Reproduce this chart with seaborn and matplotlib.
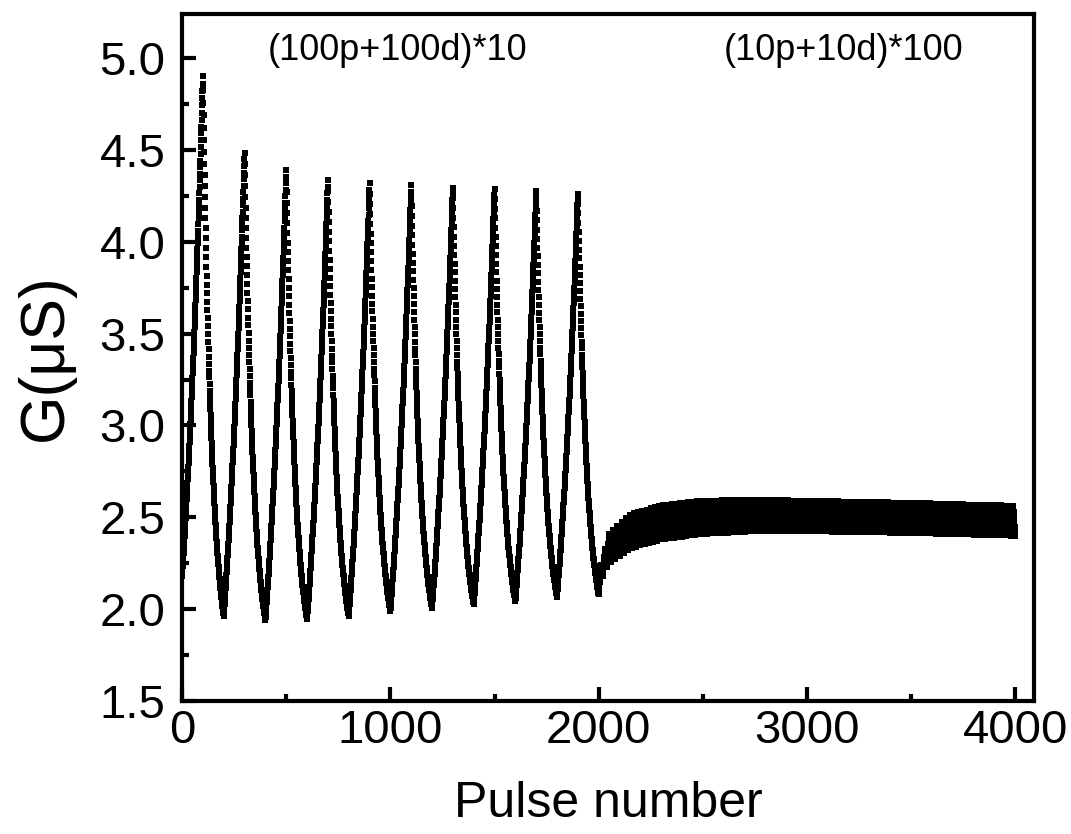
import numpy as np
import pandas as pd
import matplotlib
matplotlib.use("Agg")
import matplotlib.pyplot as plt
from matplotlib.ticker import MultipleLocator
import seaborn as sns

# values (G in uS)
start_value = 2.18
# (100p+100d)*10 : peak after each 100 potentiation pulses, trough after each 100 depression pulses
peaks = [4.90, 4.486, 4.39, 4.334, 4.318, 4.307, 4.295, 4.289, 4.277, 4.262]
troughs = [1.965, 1.94, 1.946, 1.965, 1.992, 2.008, 2.03, 2.046, 2.068, 2.084]
# (10p+10d)*100 : upper / lower edge of the band at some pulse numbers
band_pulse = [2000, 2010, 2050, 2150, 2300, 2500, 2750, 3000, 3500, 4000]
band_high = [2.09, 2.24, 2.41, 2.515, 2.565, 2.59, 2.595, 2.59, 2.578, 2.562]
band_low = [2.084, 2.16, 2.25, 2.33, 2.38, 2.41, 2.425, 2.425, 2.415, 2.40]

x_ticks = [0, 1000, 2000, 3000, 4000]
y_ticks = [1.5, 2.0, 2.5, 3.0, 3.5, 4.0, 4.5, 5.0]


def build_trace():
    g = [start_value]
    prev = start_value
    for pk, tr in zip(peaks, troughs):
        t = np.arange(1, 101)
        up = prev + (pk - prev) * (np.exp(t / 120) - 1) / (np.exp(100 / 120) - 1)
        down = tr + (pk - tr) * (np.exp(-t / 45) - np.exp(-100 / 45)) / (1 - np.exp(-100 / 45))
        g.extend(up)
        g.extend(down)
        prev = tr
    for i in range(100):
        p0 = 2000 + 20 * i
        hi = np.interp(p0 + 10, band_pulse, band_high)
        lo_next = np.interp(p0 + 20, band_pulse, band_low)
        t = np.arange(1, 11)
        g.extend(prev + (hi - prev) * t / 10)
        g.extend(hi + (lo_next - hi) * t / 10)
        prev = lo_next
    return pd.DataFrame({"pulse": np.arange(len(g)), "G": g})


df = build_trace()

sns.set_style("ticks")
plt.rcParams["font.family"] = ["Liberation Sans", "DejaVu Sans"]
plt.rcParams["text.color"] = "black"
plt.rcParams["axes.labelcolor"] = "black"
plt.rcParams["xtick.color"] = "black"
plt.rcParams["ytick.color"] = "black"

fig = plt.figure(figsize=(10.71, 8.34), dpi=100)
ax = fig.add_axes([0.170, 0.1595, 0.7955, 0.8237])

sns.scatterplot(data=df, x="pulse", y="G", marker="s", s=22, color="black",
                linewidth=0, ax=ax, legend=False)

ax.set_xlim(0, 4090)
ax.set_ylim(1.5, 5.24)
ax.set_xticks(x_ticks)
ax.set_yticks(y_ticks)
ax.xaxis.set_minor_locator(MultipleLocator(500))
ax.yaxis.set_minor_locator(MultipleLocator(0.25))
ax.tick_params(which="both", direction="in", top=False, right=False,
               labelsize=34, colors="black")
ax.tick_params(which="major", length=10, width=3)
ax.tick_params(which="minor", length=5, width=3)
ax.tick_params(axis="y", pad=12)
ax.tick_params(axis="x", pad=6)
for sp in ax.spines.values():
    sp.set_linewidth(3)
    sp.set_color("black")

ax.set_xlabel("Pulse number", fontsize=36, labelpad=20)
ax.set_ylabel("G(\u03bcS)", fontsize=45, labelpad=18)

ax.text(413, 5.04, "(100p+100d)*10", fontsize=26, va="center", ha="left")
ax.text(2598, 5.04, "(10p+10d)*100", fontsize=26, va="center", ha="left")

fig.savefig("out.png", dpi=100)
plt.close(fig)
